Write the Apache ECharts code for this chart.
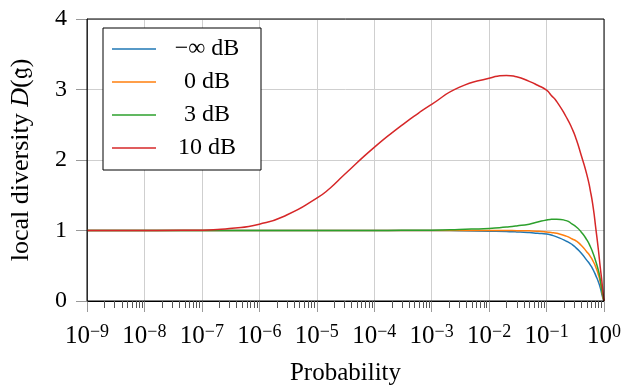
<!DOCTYPE html>
<html>
<head>
<meta charset="utf-8">
<script src="https://cdn.jsdelivr.net/npm/echarts@6/dist/echarts.min.js"></script>
<style>
  html, body { margin: 0; padding: 0; background: #fff; }
  #chart { width: 623px; height: 385px; }
</style>
</head>
<body>
<div id="chart"></div>
<script>
// Probabilities at which each curve is sampled
const probs = [1e-9, 1e-8, 1e-7, 3e-7, 1e-6, 3e-6, 1e-5, 1.7e-5, 3e-5, 1e-4,
               3e-4, 6e-4, 1e-3, 3e-3, 1e-2, 2e-2, 3e-2, 5e-2, 7e-2, 0.1,
               0.12, 0.15, 0.22, 0.28, 0.33, 0.4, 0.5, 0.58, 0.65, 0.72,
               0.8, 0.86, 0.91, 0.95, 1];

// Local diversity D(g) for each SNR
const dMinusInf = [1, 1, 1, 1, 1, 1, 1, 1, 1, 1,
                   1, 1, 1, 0.997, 0.99, 0.985, 0.98, 0.97, 0.96, 0.95,
                   0.935, 0.91, 0.85, 0.80, 0.75, 0.68, 0.58, 0.51, 0.44, 0.36,
                   0.27, 0.19, 0.11, 0.05, 0];
const d0 = [1, 1, 1, 1, 1, 1, 1, 1, 1, 1,
            1, 1, 1, 1, 1, 1, 0.998, 0.995, 0.99, 0.98,
            0.972, 0.96, 0.92, 0.88, 0.85, 0.79, 0.70, 0.63, 0.56, 0.48,
            0.37, 0.27, 0.16, 0.07, 0];
const d3 = [1, 1, 1, 1, 1, 1, 1, 1, 1, 1,
            1.002, 1.003, 1.005, 1.015, 1.03, 1.05, 1.065, 1.09, 1.12, 1.15,
            1.158, 1.16, 1.14, 1.09, 1.05, 0.98, 0.87, 0.77, 0.67, 0.56,
            0.43, 0.31, 0.17, 0.08, 0];
const d10 = [1, 1, 1.005, 1.03, 1.09, 1.22, 1.46, 1.60, 1.79, 2.18,
             2.49, 2.67, 2.79, 3.03, 3.16, 3.2, 3.18, 3.115, 3.06, 2.99,
             2.92, 2.83, 2.61, 2.44, 2.29, 2.07, 1.80, 1.56, 1.32, 1.03,
             0.72, 0.48, 0.31, 0.16, 0];

const seriesNames = ['\u2212\u221e dB', '0 dB', '3 dB', '10 dB'];
const seriesValues = [dMinusInf, d0, d3, d10];
const seriesColors = ['#1f77b4', '#ff7f0e', '#2ca02c', '#d62728'];

// Minor log ticks: 2..9 within each decade
const minorTicks = [];
for (let k = -9; k < 0; k++) {
  for (let m = 2; m <= 9; m++) minorTicks.push([m * Math.pow(10, k), 0]);
}

const FONT = 'Liberation Serif, Times New Roman, serif';

const lineSeries = seriesNames.map((name, i) => ({
  name: name,
  type: 'line',
  data: probs.map((p, j) => [p, seriesValues[i][j]]),
  symbol: 'none',
  smooth: 0.6,
  lineStyle: { color: seriesColors[i], width: 1.5 },
  itemStyle: { color: seriesColors[i] },
  z: 3 + i
}));

const chart = echarts.init(document.getElementById('chart'), null, { renderer: 'canvas' });
chart.setOption({
  animation: false,
  backgroundColor: '#fff',
  textStyle: { fontFamily: FONT },
  grid: {
    left: 87, right: 19, top: 19, bottom: 84,
    outerBoundsMode: 'none',
    containLabel: false,
    show: true, borderColor: '#000', borderWidth: 1, backgroundColor: 'transparent', z: 10
  },
  legend: {
    data: seriesNames,
    orient: 'vertical',
    left: 103, top: 28,
    backgroundColor: '#fff',
    borderColor: '#000', borderWidth: 1,
    padding: [9, 8, 10, 9],
    icon: 'rect',
    itemWidth: 44, itemHeight: 1.5, itemGap: 9, itemTextGap: 4,
    textStyle: {
      fontFamily: FONT, fontSize: 24, color: '#000', lineHeight: 24,
      rich: { t: { width: 92, align: 'center', fontFamily: FONT, fontSize: 24, lineHeight: 24 } }
    },
    formatter: n => '{t|' + n + '}',
    z: 20
  },
  xAxis: {
    type: 'log', logBase: 10, min: 1e-9, max: 1, splitNumber: 9,
    name: 'Probability', nameLocation: 'middle', nameGap: 60,
    nameTextStyle: { fontFamily: FONT, fontSize: 25, color: '#000' },
    axisLine: { show: true, onZero: false, lineStyle: { color: '#000', width: 1 } },
    axisTick: { show: true, inside: false, length: 11, lineStyle: { color: '#999' } },
    splitLine: { show: true, lineStyle: { color: '#cfcfcf', width: 1 } },
    minorTick: { show: false },
    axisLabel: {
      margin: 22,
      formatter: v => {
        const e = Math.round(Math.log10(v));
        return '{b|10}{s|' + (e < 0 ? '\u2212' + (-e) : String(e)) + '}';
      },
      rich: {
        b: { fontFamily: FONT, fontSize: 25, color: '#000', lineHeight: 26, verticalAlign: 'bottom' },
        s: { fontFamily: FONT, fontSize: 18, color: '#000', lineHeight: 26, verticalAlign: 'top', padding: [0, 0, 10, 0] }
      }
    }
  },
  yAxis: {
    type: 'value', min: 0, max: 4, interval: 1,
    name: '{n|local diversity }{i|D}{n|(\ud835\udd24)}',
    nameLocation: 'middle', nameGap: 53,
    nameTextStyle: {
      fontFamily: FONT, fontSize: 26, color: '#000',
      rich: {
        n: { fontFamily: FONT, fontSize: 26, color: '#000' },
        i: { fontFamily: FONT, fontSize: 26, fontStyle: 'italic', color: '#000' }
      }
    },
    axisLine: { show: true, lineStyle: { color: '#555', width: 1 } },
    axisTick: { show: true, inside: false, length: 11, lineStyle: { color: '#999' } },
    splitLine: { show: true, lineStyle: { color: '#cfcfcf', width: 1 } },
    axisLabel: { margin: 20, fontFamily: FONT, fontSize: 24, color: '#000' }
  },
  series: lineSeries.concat([{
    name: 'minorTicks',
    type: 'custom',
    data: minorTicks,
    encode: { x: 0, y: 1 },
    clip: false,
    silent: true,
    z: 11,
    renderItem: (params, api) => {
      const p = api.coord([api.value(0), 0]);
      const x = Math.round(p[0]) + 0.5;
      return {
        type: 'line',
        shape: { x1: x, y1: p[1], x2: x, y2: p[1] + 7 },
        style: { stroke: '#555', lineWidth: 1 }
      };
    }
  }])
});
</script>
</body>
</html>
